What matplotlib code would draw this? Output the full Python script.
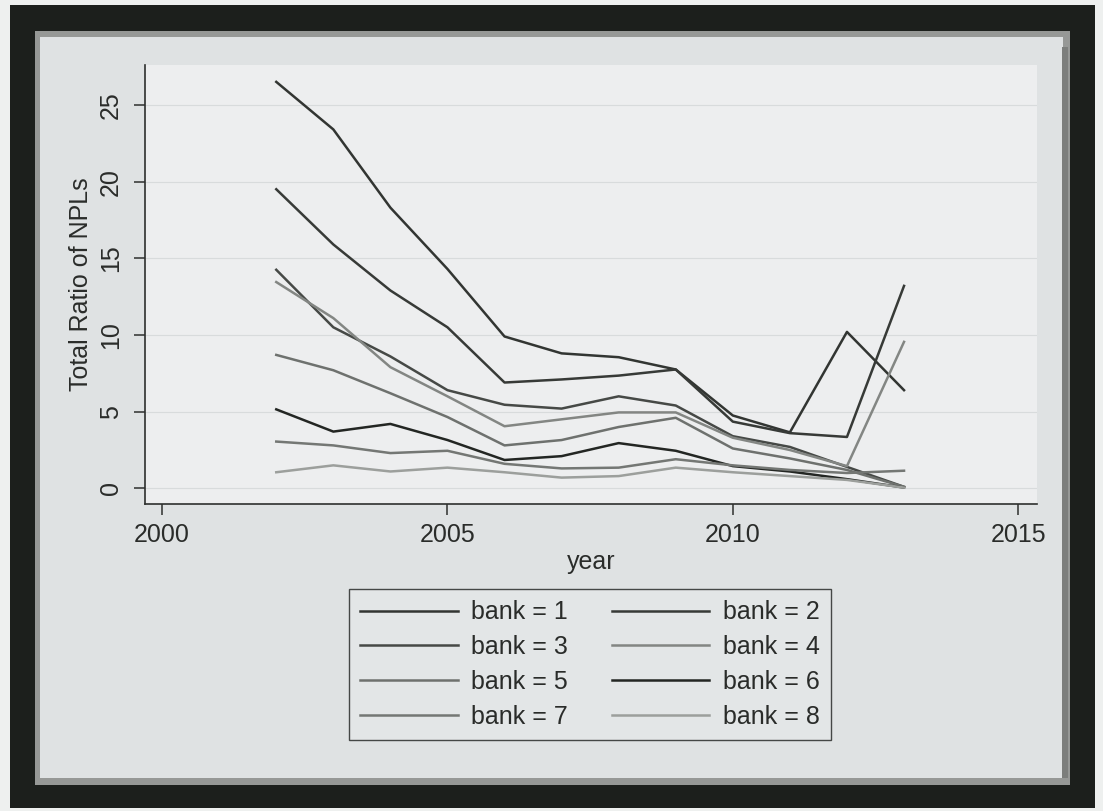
from matplotlib import pyplot as plt
from matplotlib.patches import Rectangle

# Values (Total Ratio of NPLs by bank and year)
years = [2002, 2003, 2004, 2005, 2006, 2007, 2008, 2009, 2010, 2011, 2012, 2013]
bank_1 = [26.5, 23.4, 18.3, 14.3, 9.9, 8.8, 8.55, 7.75, 4.75, 3.65, 10.2, 6.4]
bank_2 = [19.5, 15.9, 12.9, 10.5, 6.9, 7.1, 7.35, 7.75, 4.35, 3.6, 3.35, 13.2]
bank_3 = [14.25, 10.5, 8.6, 6.4, 5.45, 5.2, 6.0, 5.4, 3.4, 2.7, 1.4, 0.1]
bank_4 = [13.45, 11.1, 7.9, 6.0, 4.05, 4.5, 4.95, 4.95, 3.3, 2.5, 1.45, 9.55]
bank_5 = [8.7, 7.7, 6.2, 4.65, 2.8, 3.15, 4.0, 4.6, 2.6, 1.95, 1.2, 0.1]
bank_6 = [5.15, 3.7, 4.2, 3.15, 1.85, 2.1, 2.95, 2.45, 1.45, 1.1, 0.6, 0.05]
bank_7 = [3.05, 2.8, 2.3, 2.45, 1.6, 1.3, 1.35, 1.9, 1.5, 1.2, 1.0, 1.15]
bank_8 = [1.05, 1.5, 1.1, 1.35, 1.05, 0.7, 0.8, 1.35, 1.05, 0.8, 0.55, 0.05]

series = [bank_1, bank_2, bank_3, bank_4, bank_5, bank_6, bank_7, bank_8]
labels = [f"bank = {i}" for i in range(1, 9)]
colors = ['#323532', '#373a37', '#464946', '#838683',
          '#6e716e', '#232623', '#747774', '#9c9f9c']

W, H = 1103, 811
FS = 18
plt.rcParams['font.family'] = ['Liberation Sans', 'DejaVu Sans']
fig = plt.figure(figsize=(W / 100, H / 100), dpi=100, facecolor='#eef0ef')


def add_box(x0, y0, x1, y1, color, z):
    # rectangle given in pixel coords measured from the top-left corner
    fig.add_artist(Rectangle((x0 / W, 1 - y1 / H), (x1 - x0) / W, (y1 - y0) / H,
                             transform=fig.transFigure, facecolor=color,
                             edgecolor='none', zorder=z))


# black picture frame, grey mat and the light graph region
add_box(10, 5, 1095, 808, '#1c1f1c', -5)
add_box(35, 31, 1070, 785, '#969896', -4)
add_box(40, 37, 1063, 778, '#dfe2e3', -3)
add_box(1062, 47, 1068, 778, '#7c7e7c', -3)

ax = fig.add_axes([145 / W, 1 - 504 / H, (1037 - 145) / W, (504 - 65) / H])
ax.set_facecolor('#edeeef')

lines = []
for vals, lab, col in zip(series, labels, colors):
    ln, = ax.plot(years, vals, color=col, lw=1.8, label=lab)
    lines.append(ln)

ax.set_xlim(1999.7, 2015.33)
ax.set_ylim(-1.02, 27.6)
ax.set_xticks([2000, 2005, 2010, 2015])
ax.set_yticks([0, 5, 10, 15, 20, 25])
ax.grid(axis='y', color='#d8dbdc', lw=0.8)
ax.set_axisbelow(True)

for side in ['top', 'right']:
    ax.spines[side].set_visible(False)
for side in ['left', 'bottom']:
    ax.spines[side].set_color('#2e302e')
    ax.spines[side].set_linewidth(1.2)

ax.tick_params(axis='both', direction='out', length=8, width=1.1,
               color='#2e302e', labelsize=FS, labelcolor='#2a2c2a', pad=6)
ax.tick_params(axis='y', pad=8)
for t in ax.get_yticklabels():
    t.set_rotation(90)
    t.set_va('center')

ax.set_xlabel('year', fontsize=FS, color='#2a2c2a', labelpad=2)
ax.set_ylabel('Total Ratio of NPLs', fontsize=FS, color='#2a2c2a', labelpad=4)

# Stata fills the legend row by row, matplotlib column by column
order = [0, 2, 4, 6, 1, 3, 5, 7]
leg = fig.legend([lines[i] for i in order], [labels[i] for i in order],
                 loc='center', bbox_to_anchor=(590 / W, 1 - 664.5 / H),
                 ncol=2, fontsize=FS, frameon=True, fancybox=False,
                 handlelength=3.9, handletextpad=0.55, columnspacing=1.75,
                 labelspacing=0.43, borderpad=0.45, borderaxespad=0)
leg.get_frame().set_edgecolor('#1e201e')
leg.get_frame().set_facecolor('#e5e8e9')
leg.get_frame().set_linewidth(1.0)
for t in leg.get_texts():
    t.set_color('#2a2c2a')

fig.savefig('out.png', dpi=100, facecolor=fig.get_facecolor())
